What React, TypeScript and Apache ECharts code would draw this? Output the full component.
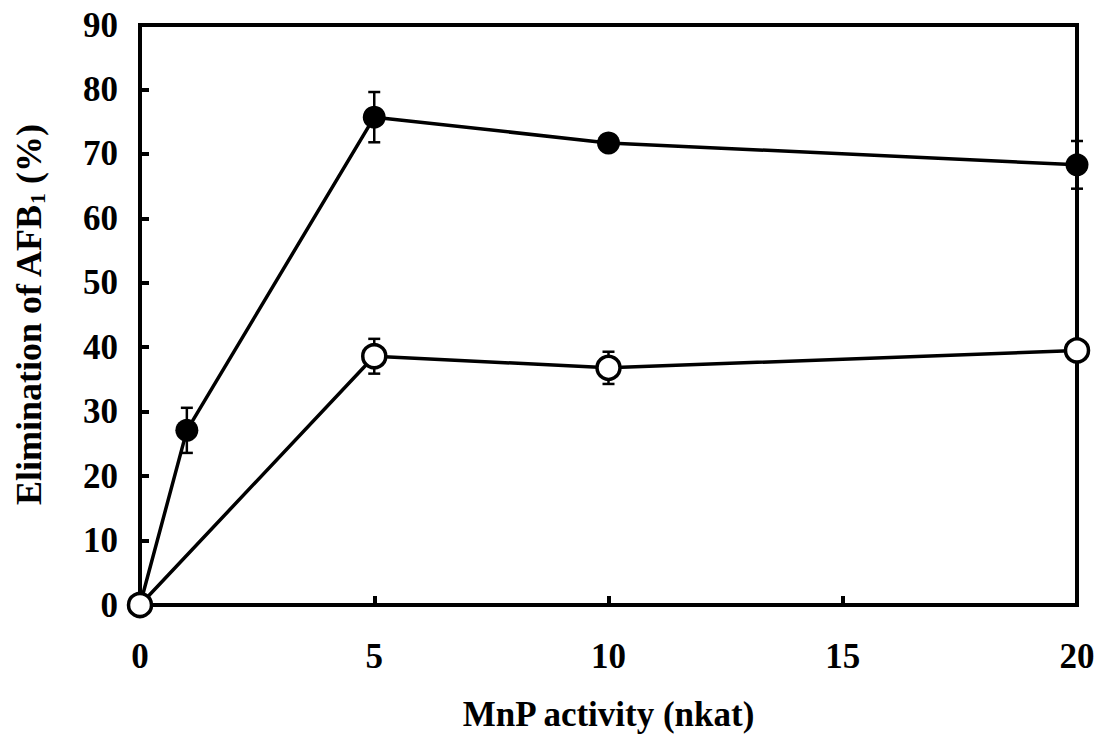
import React, { useEffect, useRef } from "react";
import * as echarts from "echarts";

const xTicks = [0, 5, 10, 15, 20];
const yTicks = [0, 10, 20, 30, 40, 50, 60, 70, 80, 90];

const filledX = [0, 1, 5, 10, 20];
const filledY = [0, 27.1, 75.7, 71.7, 68.3];
const filledErr = [0, 3.5, 3.9, 0.8, 3.7];

const openX = [0, 5, 10, 20];
const openY = [0, 38.6, 36.8, 39.5];
const openErr = [0, 2.7, 2.5, 0.5];

const FONT = "'Liberation Serif', 'Times New Roman', serif";

export default function App() {
  const ref = useRef<HTMLDivElement>(null);
  useEffect(() => {
    if (!ref.current) return;
    const chart = echarts.init(ref.current, undefined, { renderer: "svg" });

    const errData = (xs: number[], ys: number[], es: number[]) =>
      xs.map((x, i) => [x, ys[i] - es[i], ys[i] + es[i]]);

    const errorRender = (params: any, api: any) => {
      const x = api.value(0);
      const lo = api.coord([x, api.value(1)]);
      const hi = api.coord([x, api.value(2)]);
      const w = 6;
      const style = { stroke: "#000", lineWidth: 2.5 };
      return {
        type: "group",
        children: [
          { type: "line", shape: { x1: lo[0], y1: lo[1], x2: hi[0], y2: hi[1] }, style },
          { type: "line", shape: { x1: lo[0] - w, y1: lo[1], x2: lo[0] + w, y2: lo[1] }, style },
          { type: "line", shape: { x1: hi[0] - w, y1: hi[1], x2: hi[0] + w, y2: hi[1] }, style },
        ],
      };
    };

    chart.setOption({
      animation: false,
      backgroundColor: "#fff",
      grid: {
        left: 140,
        right: 25,
        top: 25,
        bottom: 134,
        show: true,
        borderColor: "#000",
        borderWidth: 4,
        backgroundColor: "transparent",
      },
      xAxis: {
        type: "value",
        min: xTicks[0],
        max: xTicks[xTicks.length - 1],
        interval: 5,
        name: "MnP activity (nkat)",
        nameLocation: "middle",
        nameGap: 92,
        nameTextStyle: { fontFamily: FONT, fontWeight: "bold", fontSize: 35, color: "#000" },
        axisLine: { show: true, lineStyle: { color: "#000", width: 4 } },
        axisTick: { show: true, inside: true, length: 9, lineStyle: { color: "#000", width: 4 } },
        axisLabel: { fontFamily: FONT, fontWeight: "bold", fontSize: 35, color: "#000", margin: 34 },
        splitLine: { show: false },
      },
      yAxis: {
        type: "value",
        min: yTicks[0],
        max: yTicks[yTicks.length - 1],
        interval: 10,
        name: "Elimination of AFB{sub|1} (%)",
        nameLocation: "middle",
        nameRotate: 90,
        nameGap: 92,
        nameTextStyle: {
          fontFamily: FONT,
          fontWeight: "bold",
          fontSize: 36,
          color: "#000",
          rich: {
            sub: {
              fontFamily: FONT,
              fontWeight: "bold",
              fontSize: 22,
              color: "#000",
              verticalAlign: "bottom",
              padding: [16, 0, 0, 0],
            },
          },
        },
        axisLine: { show: true, lineStyle: { color: "#000", width: 4 } },
        axisTick: { show: true, inside: true, length: 9, lineStyle: { color: "#000", width: 4 } },
        axisLabel: { fontFamily: FONT, fontWeight: "bold", fontSize: 35, color: "#000", margin: 22 },
        splitLine: { show: false },
      },
      series: [
        {
          type: "custom",
          name: "filled-err",
          renderItem: errorRender,
          data: errData(filledX, filledY, filledErr),
          encode: { x: 0, y: [1, 2] },
          z: 1,
          silent: true,
        },
        {
          type: "custom",
          name: "open-err",
          renderItem: errorRender,
          data: errData(openX, openY, openErr),
          encode: { x: 0, y: [1, 2] },
          z: 1,
          silent: true,
        },
        {
          type: "line",
          name: "filled",
          data: filledX.map((x, i) => [x, filledY[i]]),
          symbol: "circle",
          symbolSize: 23,
          lineStyle: { color: "#000", width: 3.5 },
          itemStyle: { color: "#000", borderColor: "#000", borderWidth: 0 },
          z: 3,
        },
        {
          type: "line",
          name: "open",
          data: openX.map((x, i) => [x, openY[i]]),
          symbol: "circle",
          symbolSize: 23,
          lineStyle: { color: "#000", width: 3.5 },
          itemStyle: { color: "#fff", borderColor: "#000", borderWidth: 3.5 },
          z: 4,
        },
      ],
    });
    return () => chart.dispose();
  }, []);
  return <div ref={ref} style={{ width: 1102, height: 739, position: "absolute", left: 0, top: 0 }} />;
}
